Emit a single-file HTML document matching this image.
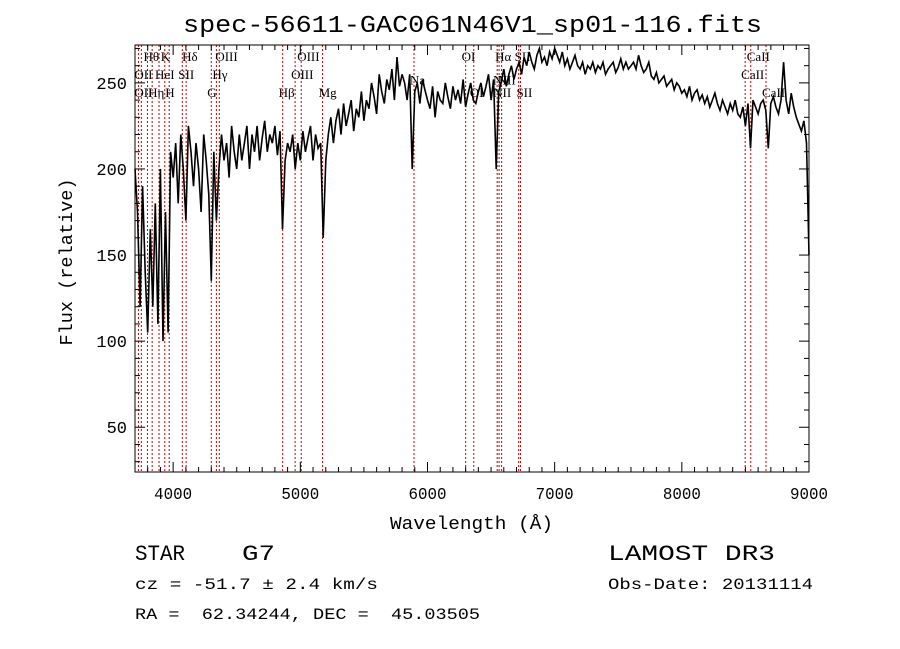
<!DOCTYPE html>
<html><head><meta charset="utf-8"><style>
body{margin:0;background:#fff;}
svg{display:block;}
text{font-family:"Liberation Mono",monospace;fill:#000;white-space:pre;}
.lab{font-family:"Liberation Serif",serif;font-size:13px;}
</style></head><body>
<svg id="chart" width="900" height="649" viewBox="0 0 900 649" xmlns="http://www.w3.org/2000/svg" xml:space="preserve">
<rect width="900" height="649" fill="#fff"/>
<text x="183" y="32" font-size="24" textLength="579" lengthAdjust="spacingAndGlyphs">spec-56611-GAC061N46V1_sp01-116.fits</text>
<text x="390" y="529" font-size="18" textLength="163" lengthAdjust="spacingAndGlyphs">Wavelength (Å)</text>
<text x="0" y="0" font-size="18" text-anchor="middle" textLength="167" lengthAdjust="spacingAndGlyphs" transform="translate(72,262) rotate(-90)">Flux (relative)</text>
<text x="135" y="560" font-size="22" textLength="50" lengthAdjust="spacingAndGlyphs" style="font-family:'Liberation Mono',monospace">STAR</text>
<text x="242" y="560" font-size="22" textLength="33" lengthAdjust="spacingAndGlyphs">G7</text>
<text x="135" y="589" font-size="16" textLength="243" lengthAdjust="spacingAndGlyphs">cz = -51.7 ± 2.4 km/s</text>
<text x="135" y="619" font-size="16" textLength="345" lengthAdjust="spacingAndGlyphs">RA =  62.34244, DEC =  45.03505</text>
<text x="608" y="560" font-size="22" textLength="167" lengthAdjust="spacingAndGlyphs">LAMOST DR3</text>
<text x="608" y="589" font-size="16" textLength="205" lengthAdjust="spacingAndGlyphs">Obs-Date: 20131114</text>
<g id="lines"></g><g id="spec"></g><g id="axes"></g>
</svg>
<script>
const wlStart = 3700, wlStep = 20;
const flux = [200,175,120,190,140,105,165,120,180,110,200,100,175,105,210,195,
215,180,220,200,170,225,210,190,215,200,175,220,205,185,135,
210,170,200,220,205,215,195,225,210,200,220,205,215,225,200,
220,210,225,205,218,228,210,220,215,225,208,222,165,205,215,
210,220,200,215,205,222,210,218,225,205,220,212,215,160,205,
220,230,215,228,235,220,238,225,232,240,222,235,230,245,228,
240,235,250,242,232,255,245,238,252,246,258,240,265,248,255,
250,240,255,200,245,250,238,252,246,240,235,248,230,245,240,
238,250,242,235,248,240,246,238,252,236,244,250,240,238,245,
250,242,248,255,240,252,200,245,250,258,248,255,260,252,258,
262,255,265,260,268,262,258,266,270,262,265,260,268,264,270,
266,262,268,260,264,258,262,266,260,258,262,255,260,258,262,
256,260,258,262,255,258,260,262,256,259,264,258,262,258,260,
262,258,266,260,256,258,262,254,252,256,250,252,254,248,250,
252,246,250,248,244,246,242,248,240,244,246,240,243,238,242,
236,240,244,238,234,240,236,232,238,234,240,232,230,236,225,
238,212,240,236,232,238,240,234,212,238,242,236,232,240,262,
240,232,244,236,230,226,222,228,215,150];
const lineWl = [3727,3750,3798,3835,3889,3934,3969,4072,4102,4300,4340,4363,4861,4959,5007,5175,5894,6300,6364,6548,6563,6583,6717,6731,8498,8542,8662];
const lineLabels = [
 ["Hθ",3798,0],["K",3934,0],["Hδ",4102,0],["OIII",4363,0],["OIII",5007,0],["OI",6300,0],["Hα",6563,0],["SII",6717,0],["CaII",8542,0],
 ["OII",3727,1],["HeI",3889,1],["SII",4072,1],["Hγ",4340,1],["OIII",4959,1],["Na",5894,1.3],["NII",6548,1.3],["NII",6583,1.3],["CaII",8498,1],
 ["OII",3727,2],["Hη",3835,2],["H",3969,2],["G",4300,2],["Hβ",4861,2],["Mg",5175,2],["OI",6364,2],["NII",6548,2],["SII",6731,2],["CaII",8662,2]];
const yTicks = [50,100,150,200,250];
const xTicks = [4000,5000,6000,7000,8000,9000];
const X0=135,X1=809,Y0=45,Y1=472,WMIN=3700,WMAX=9000,FMIN=24,FMAX=272;
const NS="http://www.w3.org/2000/svg";
function sx(w){return X0+(w-WMIN)/(WMAX-WMIN)*(X1-X0);}
function sy(f){return Y1-(f-FMIN)/(FMAX-FMIN)*(Y1-Y0);}
function mk(tag,attrs,parent){const e=document.createElementNS(NS,tag);for(const k in attrs)e.setAttribute(k,attrs[k]);parent.appendChild(e);return e;}
const gL=document.getElementById('lines'),gS=document.getElementById('spec'),gA=document.getElementById('axes');
lineWl.forEach(w=>{const l=mk('line',{x1:sx(w),x2:sx(w),y1:Y0,y2:Y1,stroke:'#c00000','stroke-width':1,'stroke-dasharray':'2,2'},gL);

});
lineLabels.forEach(([t,w,r])=>{const e=mk('text',{x:sx(w)-4,y:61+r*18,class:'lab'},gL);e.textContent=t;

});
let d='';flux.forEach((f,i)=>{d+=(i?'L':'M')+sx(wlStart+i*wlStep).toFixed(1)+','+sy(f).toFixed(1);});
const p=mk('path',{d:d,fill:'none',stroke:'#000','stroke-width':1.6},gS);


const fr=mk('rect',{x:X0,y:Y0,width:X1-X0,height:Y1-Y0,fill:'none',stroke:'#000','stroke-width':1},gA);


for(let w=3700;w<=9000;w+=100){const mj=w%1000===0,L=mj?10:5;
mk('line',{x1:sx(w),x2:sx(w),y1:Y1,y2:Y1-L,stroke:'#000'},gA);mk('line',{x1:sx(w),x2:sx(w),y1:Y0,y2:Y0+L,stroke:'#000'},gA);}
for(let f=30;f<=270;f+=10){const mj=f%50===0,L=mj?10:5;
mk('line',{x1:X0,x2:X0+L,y1:sy(f),y2:sy(f),stroke:'#000'},gA);mk('line',{x1:X1,x2:X1-L,y1:sy(f),y2:sy(f),stroke:'#000'},gA);}
xTicks.forEach(w=>{const t=mk('text',{x:sx(w),y:Y1+27,'font-size':17,'text-anchor':'middle','textLength':38,'lengthAdjust':'spacingAndGlyphs'},gA);t.textContent=w;

});
yTicks.forEach(f=>{const t=mk('text',{x:X0-8,y:sy(f)+6,'font-size':17,'text-anchor':'end'},gA);t.textContent=f;

});
</script>
</body></html>
